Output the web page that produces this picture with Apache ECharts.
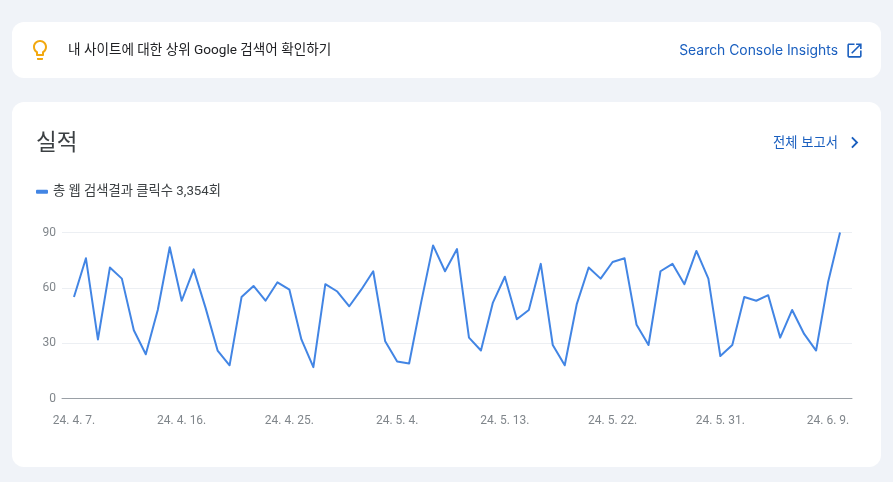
<!DOCTYPE html>
<html>
<head>
<meta charset="utf-8">
<title>실적</title>
<style>
html, body { margin: 0; padding: 0; background: #f0f3f8; }
#main { width: 893px; height: 482px; }
</style>
<script src="https://cdn.jsdelivr.net/npm/echarts@6/dist/echarts.min.js"></script>
</head>
<body>
<div id="main"></div>
<script>
var seriesName = '총 웹 검색결과 클릭수 3,354회';

// one entry per day from 24. 4. 7. , the first and last '' are only padding on the axis
var categories = ['',
	'24. 4. 7.', '24. 4. 8.', '24. 4. 9.', '24. 4. 10.', '24. 4. 11.', '24. 4. 12.', '24. 4. 13.', '24. 4. 14.', '24. 4. 15.',
	'24. 4. 16.', '24. 4. 17.', '24. 4. 18.', '24. 4. 19.', '24. 4. 20.', '24. 4. 21.', '24. 4. 22.', '24. 4. 23.', '24. 4. 24.',
	'24. 4. 25.', '24. 4. 26.', '24. 4. 27.', '24. 4. 28.', '24. 4. 29.', '24. 4. 30.', '24. 5. 1.', '24. 5. 2.', '24. 5. 3.',
	'24. 5. 4.', '24. 5. 5.', '24. 5. 6.', '24. 5. 7.', '24. 5. 8.', '24. 5. 9.', '24. 5. 10.', '24. 5. 11.', '24. 5. 12.',
	'24. 5. 13.', '24. 5. 14.', '24. 5. 15.', '24. 5. 16.', '24. 5. 17.', '24. 5. 18.', '24. 5. 19.', '24. 5. 20.', '24. 5. 21.',
	'24. 5. 22.', '24. 5. 23.', '24. 5. 24.', '24. 5. 25.', '24. 5. 26.', '24. 5. 27.', '24. 5. 28.', '24. 5. 29.', '24. 5. 30.',
	'24. 5. 31.', '24. 6. 1.', '24. 6. 2.', '24. 6. 3.', '24. 6. 4.', '24. 6. 5.', '24. 6. 6.', '24. 6. 7.', '24. 6. 8.',
	'24. 6. 9.', '24. 6. 10.',
''];

var clicks = [null,
	55, 76, 32, 71, 65, 37, 24, 48, 82,
	53, 70, 49, 26, 18, 55, 61, 53, 63,
	59, 32, 17, 62, 58, 50, 59, 69, 31,
	20, 19, 52, 83, 69, 81, 33, 26, 52,
	66, 43, 48, 73, 29, 18, 51, 71, 65,
	74, 76, 40, 29, 69, 73, 62, 80, 65,
	23, 29, 55, 53, 56, 33, 48, 35, 26,
	63, 90,
null];

var tickLabels = ['24. 4. 7.', '24. 4. 16.', '24. 4. 25.', '24. 5. 4.', '24. 5. 13.', '24. 5. 22.', '24. 5. 31.', '24. 6. 9.'];

var fontName = 'Roboto, "Noto Sans CJK KR", sans-serif';
var linkFont = 'Inter, "Noto Sans CJK KR", sans-serif';
var linkColor = '#1a5fbf';

var bulbPath = 'M9 21c0 .55.45 1 1 1h4c.55 0 1-.45 1-1v-1H9v1zm3-19C8.14 2 5 5.14 5 9c0 2.38 1.19 4.47 3 5.74V17c0 .55.45 1 1 1h6c.55 0 1-.45 1-1v-2.26c1.81-1.27 3-3.36 3-5.74 0-3.86-3.14-7-7-7zm2.85 11.1l-.85.6V16h-4v-2.3l-.85-.6C7.8 12.16 7 10.63 7 9c0-2.76 2.24-5 5-5s5 2.24 5 5c0 1.63-.8 3.16-2.15 4.1z';
var openPath = 'M19 19H5V5h7V3H5c-1.11 0-2 .9-2 2v14c0 1.1.89 2 2 2h14c1.1 0 2-.9 2-2v-7h-2v7zM14 3v2h3.59l-9.83 9.83 1.41 1.41L19 6.41V10h2V3h-7z';
var chevronPath = 'M10 6L8.59 7.41 13.17 12l-4.58 4.59L10 18l6-6z';

function card(y, h) {
	return {
		type: 'rect', z: -10,
		shape: { x: 12, y: y, width: 869, height: h, r: 12 },
		style: { fill: '#ffffff' }
	};
}

function label(text, x, y, size, color, align, font) {
	return {
		type: 'text', z: 10, x: x, y: y,
		style: {
			text: text, fontSize: size, fill: color, align: align || 'left',
			verticalAlign: 'middle', fontFamily: font || fontName
		}
	};
}

// the graphic component has no path type, so the icons go in as small svg images
function icon(path, x, y, size, color) {
	var svg = '<svg xmlns="http://www.w3.org/2000/svg" width="24" height="24" viewBox="0 0 24 24"><path fill="' + color + '" d="' + path + '"/></svg>';
	return {
		type: 'image', z: 10,
		style: { image: 'data:image/svg+xml,' + encodeURIComponent(svg), x: x, y: y, width: size, height: size }
	};
}

var myChart = echarts.init(document.getElementById('main'));

var option = {
	animation: false,
	backgroundColor: '#f0f3f8',
	title: {
		text: '실적', left: 31, top: 128,
		textStyle: { fontFamily: fontName, fontSize: 22.5, fontWeight: 'normal', color: '#3c4043' }
	},
	legend: {
		left: 36, top: 185, padding: 0,
		itemWidth: 12, itemHeight: 4, itemGap: 7,
		icon: 'roundRect',
		textStyle: { fontFamily: fontName, fontSize: 13.3, color: '#3c4043' },
		data: [seriesName]
	},
	grid: { left: 62, right: 41, top: 232.5, height: 166 },
	xAxis: {
		type: 'category',
		data: categories,
		boundaryGap: false,
		axisTick: { show: false },
		axisLine: { lineStyle: { color: '#9aa0a6', width: 1 } },
		axisLabel: {
			interval: 0,
			hideOverlap: false,
			showMinLabel: true,
			showMaxLabel: true,
			formatter: function (value) {
				return tickLabels.indexOf(value) >= 0 ? value : '';
			},
			color: '#80868b', fontFamily: fontName, fontSize: 12, margin: 16
		}
	},
	yAxis: {
		type: 'value',
		min: 0, max: 90, interval: 30,
		axisLine: { show: false },
		axisTick: { show: false },
		axisLabel: { color: '#80868b', fontFamily: fontName, fontSize: 12, margin: 6, padding: [4, 0, 0, 0] },
		splitLine: { lineStyle: { color: '#eceff3', width: 1 } }
	},
	series: [{
		name: seriesName,
		type: 'line',
		data: clicks,
		symbol: 'none',
		clip: false,
		itemStyle: { color: '#4285e4' },
		lineStyle: { color: '#4285e4', width: 2, join: 'round' }
	}],
	graphic: [
		card(22, 56),
		card(102, 365),
		icon(bulbPath, 28, 38, 24, '#f2a80f'),
		label('내 사이트에 대한 상위 Google 검색어 확인하기', 68, 51, 13.6, '#202124'),
		label('Search Console Insights', 838, 51, 13.9, linkColor, 'right', linkFont),
		icon(openPath, 845, 41, 19, linkColor),
		label('전체 보고서', 838, 143, 13.3, linkColor, 'right', linkFont),
		icon(chevronPath, 843, 131, 23, linkColor)
	]
};

myChart.setOption(option);
</script>
</body>
</html>
